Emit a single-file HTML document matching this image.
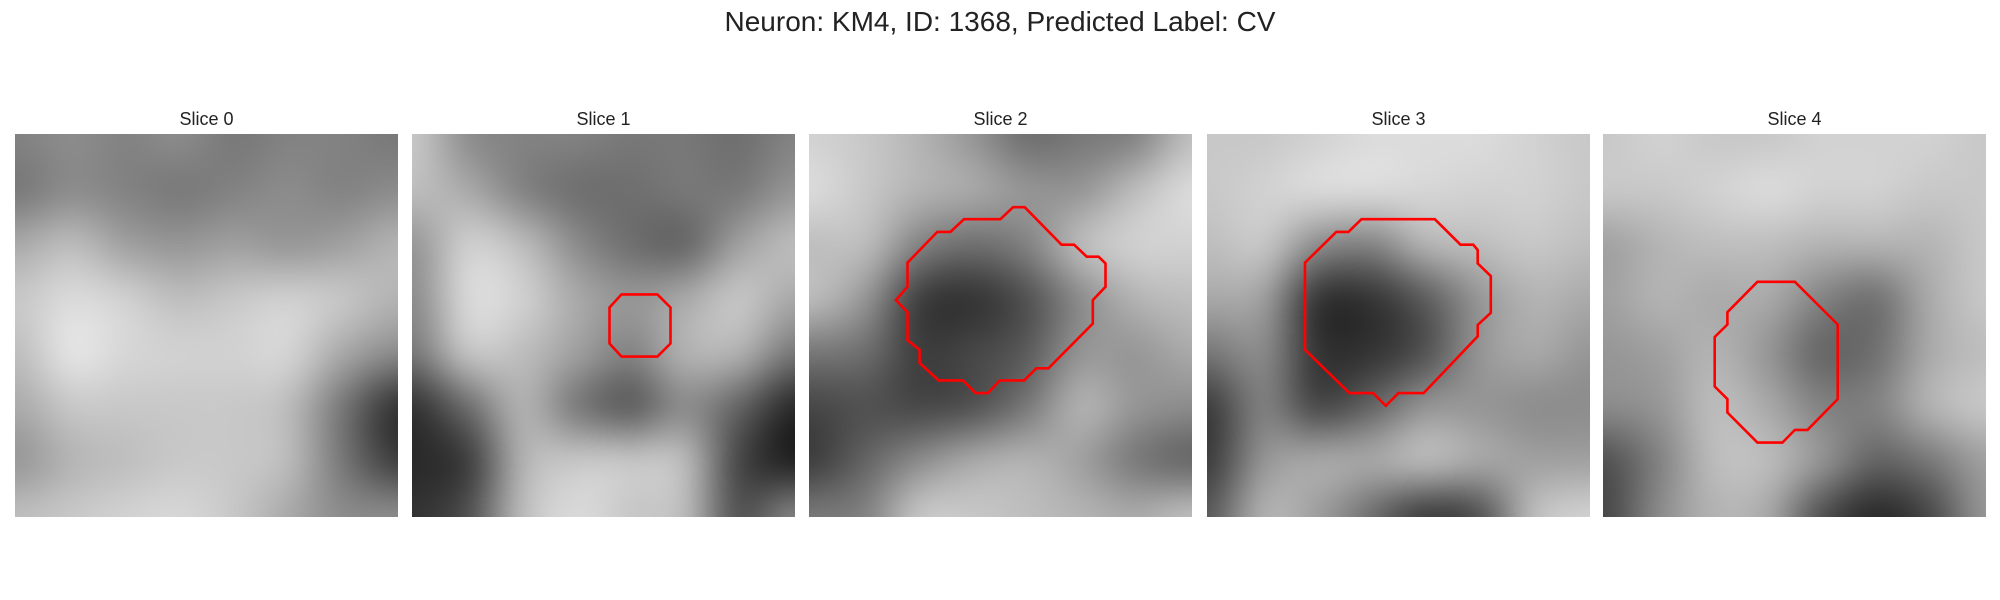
<!DOCTYPE html>
<html><head><meta charset="utf-8">
<style>
body{margin:0;background:#fff;width:2000px;height:600px;position:relative;overflow:hidden;font-family:"Liberation Sans","DejaVu Sans",sans-serif;}
#title{position:absolute;left:0;width:2000px;top:6px;text-align:center;font-size:28px;color:#222;}
.pt{position:absolute;top:109px;width:383px;text-align:center;font-size:18px;color:#222;}
canvas{position:absolute;top:134px;width:383px;height:383px;}
svg{position:absolute;top:134px;width:383px;height:383px;}
</style></head><body>
<div id="title">Neuron: KM4, ID: 1368, Predicted Label: CV</div>
<div id="root"></div>
<script>
const sliceLabels=["Slice 0","Slice 1","Slice 2","Slice 3","Slice 4"];
const slice0=[[130,140,130,140,120,130,130,120],[120,140,130,120,130,140,130,140],[170,190,160,150,160,150,160,180],[200,220,210,190,200,210,200,180],[190,230,215,210,210,215,170,140],[170,200,200,200,200,190,120,50],[150,180,190,200,200,190,120,60],[190,200,210,215,200,170,140,140]];
const slice1=[[200,140,130,130,120,120,110,130],[190,170,130,110,110,120,120,150],[150,210,190,140,110,100,160,190],[140,220,210,170,150,170,200,170],[120,200,190,160,130,180,180,120],[50,110,180,120,90,140,100,40],[40,60,180,200,200,190,70,30],[50,80,190,220,200,190,80,130]];
const slice2=[[210,200,180,150,110,120,130,190],[220,200,180,170,150,150,190,220],[190,190,130,110,130,190,210,210],[190,150,60,50,80,140,180,190],[120,110,60,70,90,150,150,170],[70,80,70,80,120,180,150,140],[60,100,140,170,180,160,120,100],[120,130,200,200,190,180,170,190]];
const slice3=[[200,200,210,220,220,220,210,200],[200,210,220,220,215,210,210,200],[190,200,140,130,180,190,200,190],[170,160,50,50,90,150,180,170],[120,140,50,50,80,150,170,150],[60,130,70,100,150,150,140,140],[60,150,170,170,190,170,160,160],[90,180,160,110,60,80,190,210]];
const slice4=[[200,210,200,200,210,210,210,200],[200,200,210,220,210,210,200,200],[160,180,190,190,180,180,180,200],[160,180,170,170,130,110,170,200],[150,160,180,150,100,110,170,190],[140,150,190,170,130,130,180,200],[80,130,190,190,150,100,120,160],[70,140,180,170,80,40,70,150]];
const contour0=[];
const contour1=[[17.5,13.4],[20.5,13.4],[21.6,14.5],[21.6,17.5],[20.5,18.6],[17.5,18.6],[16.5,17.5],[16.5,14.5]];
const contour2=[[8.23,10.75],[10.72,8.18],[11.81,8.18],[12.95,7.12],[15.99,7.12],[17.05,6.12],[18.02,6.12],[21.1,9.25],[22.15,9.25],[23.2,10.25],[24.2,10.25],[24.77,10.81],[24.77,12.77],[23.71,13.88],[23.71,15.84],[20.0,19.58],[18.99,19.58],[17.97,20.59],[15.95,20.59],[14.94,21.65],[13.92,21.65],[12.87,20.59],[10.84,20.59],[9.24,19.13],[9.24,18.02],[8.23,17.23],[8.23,14.89],[7.26,13.88],[8.23,12.77]];
const contour3=[[8.19,10.75],[10.8,8.18],[11.81,8.18],[12.91,7.12],[19.03,7.12],[21.18,9.25],[22.24,9.25],[22.62,9.69],[22.62,10.81],[23.71,11.87],[23.71,14.94],[22.62,15.95],[22.62,16.9],[18.1,21.65],[15.99,21.65],[14.94,22.71],[13.88,21.65],[11.9,21.65],[8.19,18.02]];
const contour4=[[12.9,12.35],[16.03,12.35],[19.61,15.92],[19.61,22.15],[17.09,24.72],[16.03,24.72],[14.99,25.78],[12.9,25.78],[10.39,23.27],[10.39,22.15],[9.33,21.1],[9.33,16.96],[10.39,15.92],[10.39,14.89]];
const slices=[slice0,slice1,slice2,slice3,slice4];
const contours=[contour0,contour1,contour2,contour3,contour4];
const lefts=[15,412,809,1207,1603];
const SIZE=383, GRID=32;
const root=document.getElementById('root');
slices.forEach((grid,i)=>{
  const t=document.createElement('div');
  t.className='pt';t.style.left=lefts[i]+'px';t.textContent=sliceLabels[i];
  
  
  root.appendChild(t);
  const n=grid.length;
  const small=document.createElement('canvas');small.width=n;small.height=n;
  const sc=small.getContext('2d');const img=sc.createImageData(n,n);
  grid.forEach((row,r)=>row.forEach((v,c)=>{const k=(r*n+c)*4;img.data[k]=v;img.data[k+1]=v;img.data[k+2]=v;img.data[k+3]=255;}));
  sc.putImageData(img,0,0);
  const cv=document.createElement('canvas');cv.width=SIZE;cv.height=SIZE;cv.style.left=lefts[i]+'px';
  
  
  const ctx=cv.getContext('2d');ctx.imageSmoothingEnabled=true;ctx.imageSmoothingQuality='high';
  ctx.drawImage(small,0,0,n,n,-SIZE/n/2,-SIZE/n/2,SIZE+SIZE/n,SIZE+SIZE/n);
  root.appendChild(cv);
  const pts=contours[i];
  if(pts.length){
    const svg=document.createElementNS('http://www.w3.org/2000/svg','svg');
    svg.setAttribute('viewBox','0 0 '+SIZE+' '+SIZE);svg.style.left=lefts[i]+'px';
    
    
    const p=document.createElementNS('http://www.w3.org/2000/svg','polygon');
    p.setAttribute('points',pts.map(q=>(q[0]*SIZE/GRID).toFixed(1)+','+(q[1]*SIZE/GRID).toFixed(1)).join(' '));
    p.setAttribute('fill','none');p.setAttribute('stroke','#f00');p.setAttribute('stroke-width','2.6');
    
    
    svg.appendChild(p);root.appendChild(svg);
  }
});
</script>
</body></html>
